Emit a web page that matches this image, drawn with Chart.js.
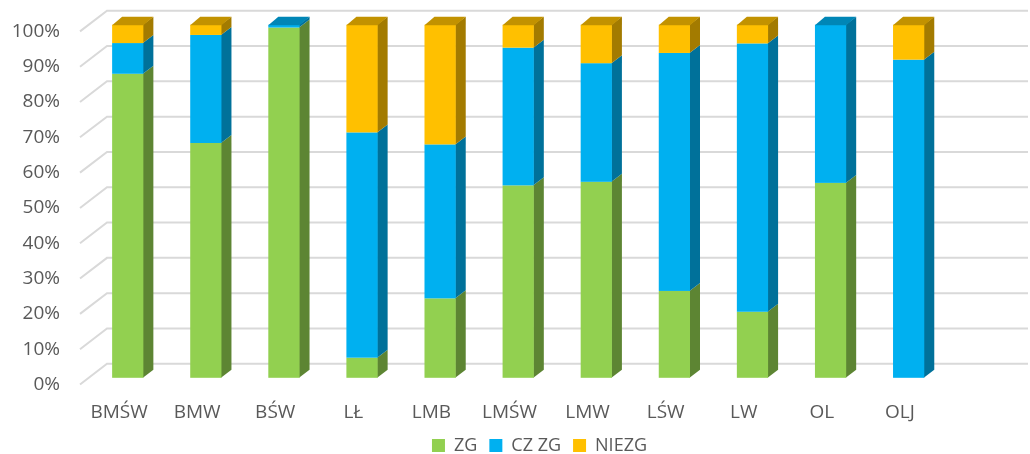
<!DOCTYPE html>
<html>
<head>
<meta charset="utf-8">
<script src="https://cdn.jsdelivr.net/npm/chart.js@4.4.0/dist/chart.umd.min.js"></script>
<style>
  html, body { margin: 0; padding: 0; background: #fff; }
</style>
</head>
<body>
<canvas id="chart" width="1030" height="454"></canvas>
<script>
// data (percent of each column)
const categories = ['BMŚW', 'BMW', 'BŚW', 'LŁ', 'LMB', 'LMŚW', 'LMW', 'LŚW', 'LW', 'OL', 'OLJ'];
const zg    = [86.1, 66.5, 99.2, 5.7, 22.5, 54.5, 55.5, 24.6, 18.7, 55.2, 0];
const czZg  = [8.7, 30.6, 0.8, 63.8, 43.6, 39.0, 33.6, 67.4, 76.0, 44.8, 90.1];
const niezg = [5.2, 2.9, 0, 30.5, 33.9, 6.5, 10.9, 8.0, 5.3, 0, 9.9];
const seriesNames = ['ZG', 'CZ ZG', 'NIEZG'];
const seriesColors = ['#92D050', '#00B0F0', '#FFC000'];

// 3d look: back wall depth, bar front offset, bar depth
const WALL = { dx: 27, dy: -20.7 };
const FRONT = { dx: 8.7, dy: -6.7 };
const DEPTH = { dx: 10, dy: -8 };

function shade(hex, f) {
    const n = parseInt(hex.slice(1), 16);
    const r = Math.round(((n >> 16) & 255) * f);
    const g = Math.round(((n >> 8) & 255) * f);
    const b = Math.round((n & 255) * f);
    return `rgb(${r},${g},${b})`;
}

const bars3d = {
    id: 'bars3d',
    afterLayout(chart) {
        // legend sits centred under the whole picture, not the padded box
        const lg = chart.legend;
        lg.left += 70;
        lg.right += 70;
    },
    beforeDatasetsDraw(chart) {
        const { ctx, chartArea: a, scales: { y } } = chart;
        ctx.save();

        // gridlines on the side wall + back wall
        ctx.strokeStyle = '#D9D9D9';
        ctx.lineWidth = 2;
        y.ticks.forEach(t => {
            const py = y.getPixelForValue(t.value);
            ctx.beginPath();
            ctx.moveTo(a.left, py);
            ctx.lineTo(a.left + WALL.dx, py + WALL.dy);
            ctx.lineTo(chart.width - 2, py + WALL.dy);
            ctx.stroke();
        });

        // stacked boxes
        const metas = chart.getSortedVisibleDatasetMetas();
        categories.forEach((c, i) => {
            let top = null;
            metas.forEach(m => {
                const v = chart.data.datasets[m.index].data[i];
                if (!v) return;
                const p = m.data[i].getProps(['x', 'y', 'base', 'width'], true);
                const l = p.x - p.width / 2 + FRONT.dx;
                const r = p.x + p.width / 2 + FRONT.dx;
                const tY = p.y + FRONT.dy;
                const bY = p.base + FRONT.dy;
                const col = chart.data.datasets[m.index].backgroundColor;

                ctx.fillStyle = shade(col, 0.64);
                ctx.beginPath();
                ctx.moveTo(r - 0.5, bY);
                ctx.lineTo(r - 0.5, tY);
                ctx.lineTo(r + DEPTH.dx, tY + DEPTH.dy);
                ctx.lineTo(r + DEPTH.dx, bY + DEPTH.dy);
                ctx.closePath();
                ctx.fill();

                ctx.fillStyle = col;
                ctx.fillRect(l, tY, r - l, bY - tY);
                top = { l, r, tY, col };
            });
            if (top) {
                ctx.fillStyle = shade(top.col, 0.76);
                ctx.beginPath();
                ctx.moveTo(top.l, top.tY + 0.5);
                ctx.lineTo(top.l + DEPTH.dx, top.tY + DEPTH.dy);
                ctx.lineTo(top.r + DEPTH.dx, top.tY + DEPTH.dy);
                ctx.lineTo(top.r, top.tY + 0.5);
                ctx.closePath();
                ctx.fill();
            }
        });

        ctx.restore();
        return false;
    }
};

const font = { family: '"Open Sans", sans-serif', size: 19 };

new Chart(document.getElementById('chart'), {
    type: 'bar',
    data: {
        labels: categories,
        datasets: [zg, czZg, niezg].map((d, k) => ({
            label: seriesNames[k],
            data: d,
            backgroundColor: seriesColors[k],
            borderWidth: 0,
            categoryPercentage: 1,
            barPercentage: 0.4
        }))
    },
    options: {
        responsive: false,
        animation: false,
        devicePixelRatio: 1,
        layout: { padding: { left: 0, right: 91, top: 31, bottom: -10.5 } },
        plugins: {
            tooltip: { enabled: false },
            legend: {
                position: 'bottom',
                labels: {
                    color: '#595959',
                    font: { family: font.family, size: 18 },
                    boxWidth: 13,
                    boxHeight: 13,
                    padding: 12
                }
            }
        },
        scales: {
            x: {
                stacked: true,
                grid: { display: false, drawTicks: false },
                border: { display: false },
                ticks: { color: '#595959', font, padding: 17, maxRotation: 0 },
                afterFit(s) { s.height = 40; }
            },
            y: {
                stacked: true,
                min: 0,
                max: 100,
                grid: { display: false, drawTicks: false },
                border: { display: false },
                ticks: { stepSize: 10, color: '#595959', font, padding: 20, callback: v => v + '%' },
                afterFit(s) { s.width = 80; }
            }
        }
    },
    plugins: [bars3d]
});
</script>
</body>
</html>
